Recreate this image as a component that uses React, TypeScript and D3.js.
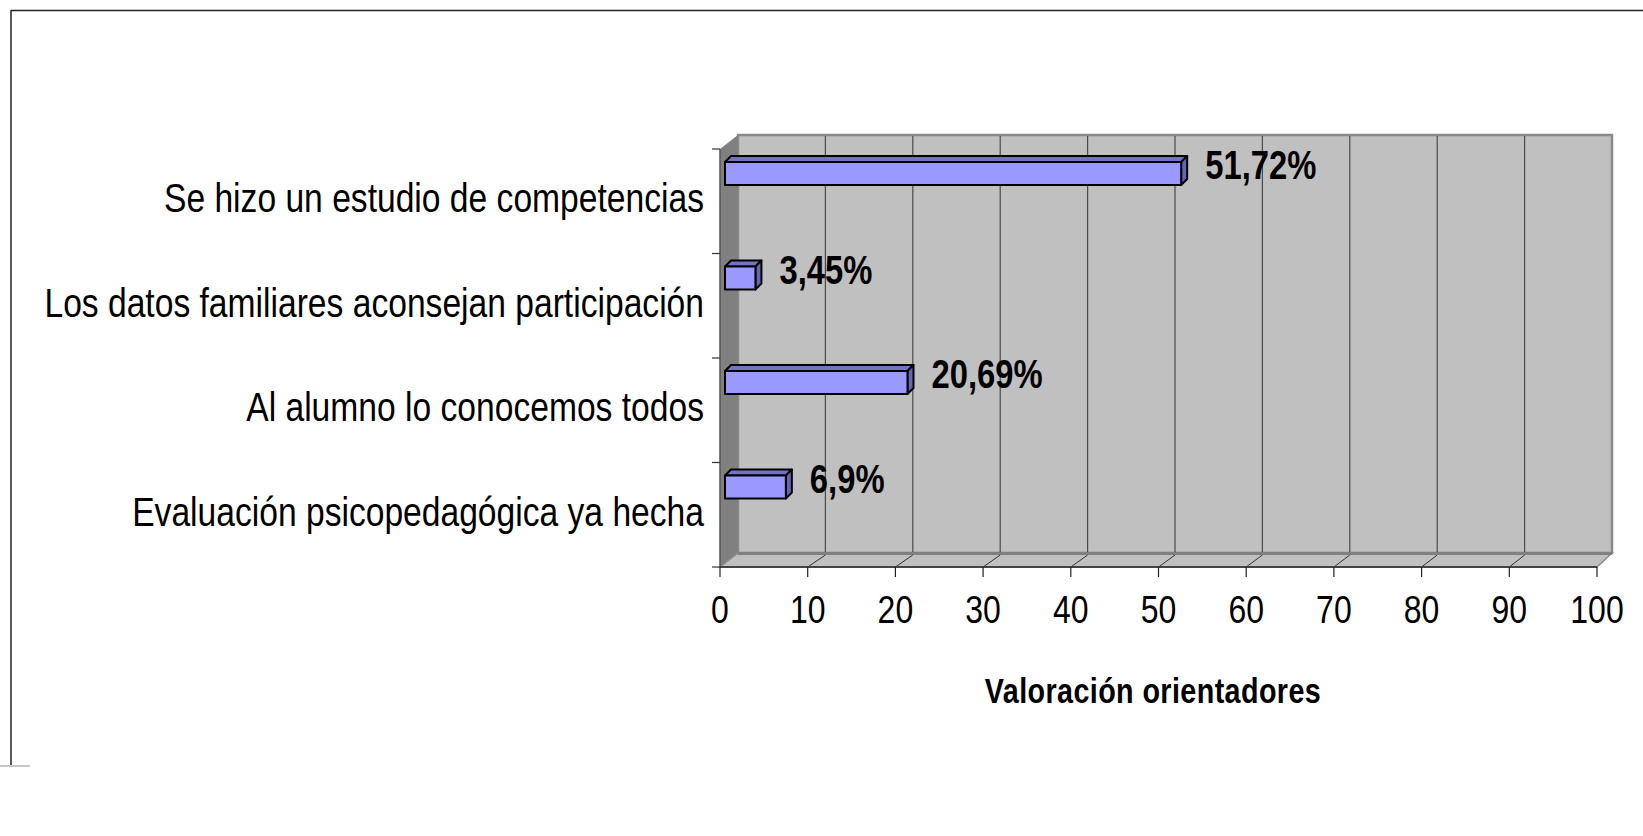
import React, { useEffect } from 'react';
import * as d3 from 'd3';

const categories = [
  'Se hizo un estudio de competencias',
  'Los datos familiares aconsejan participación',
  'Al alumno lo conocemos todos',
  'Evaluación psicopedagógica ya hecha',
];
const values = [51.72, 3.45, 20.69, 6.9];
const valueLabels = ['51,72%', '3,45%', '20,69%', '6,9%'];
const xTicks = [0, 10, 20, 30, 40, 50, 60, 70, 80, 90, 100];
const axisTitle = 'Valoración orientadores';

const FONT = "'Liberation Sans', Arial, sans-serif";
const NARROW = 0.82;

function NText(props: {
  x: number;
  y: number;
  anchor?: 'start' | 'middle' | 'end';
  size: number;
  bold?: boolean;
  spacing?: number;
  children: React.ReactNode;
}) {
  const { x, y, anchor = 'start', size, bold, spacing = 0, children } = props;
  return (
    <text
      transform={`translate(${x},${y}) scale(${NARROW},1)`}
      textAnchor={anchor}
      fontFamily={FONT}
      fontSize={size}
      fontWeight={bold ? 'bold' : 'normal'}
      letterSpacing={spacing}
      fill="#000"
    >
      {children}
    </text>
  );
}

export default function App() {
  useEffect(() => {
    document.body.style.margin = '0';
    document.body.style.overflow = 'hidden';
  }, []);

  const W = 1643;
  const H = 836;
  const frontTop = 149;
  const frontBottom = 567;
  const backTop = 135;
  const backBottom = 553;

  const frontX = d3.scaleLinear().domain([0, 100]).range([720, 1597]);
  const backX = d3.scaleLinear().domain([0, 100]).range([738, 1612]);
  const barX = d3.scaleLinear().domain([0, 100]).range([725, 1607]);
  const yBand = d3.scaleBand<string>().domain(categories).range([frontTop, frontBottom]);
  const bandEdges = categories.map((c) => yBand(c) as number).concat([frontBottom]);

  const barOffset = 13;
  const barH = 23;
  const ddx = 6;
  const ddy = -6;

  const x0f = frontX(0);
  const x0b = backX(0);
  const x1f = frontX(100);
  const x1b = backX(100);

  return (
    <svg width={W} height={H} style={{ position: 'absolute', left: 0, top: 0, background: '#fff' }}>
      {/* outer frame */}
      <line x1={11} y1={10.5} x2={W} y2={10.5} stroke="#222" strokeWidth={1.5} />
      <line x1={11} y1={10} x2={11} y2={765} stroke="#222" strokeWidth={1.5} />
      <line x1={0} y1={766} x2={30} y2={766} stroke="#c8c8c0" strokeWidth={2} />

      {/* back wall */}
      <rect x={x0b} y={backTop} width={x1b - x0b} height={backBottom - backTop} fill="#c0c0c0" stroke="#8a8a8a" strokeWidth={2.5} />
      {xTicks.filter((t) => t > 0 && t < 100).map((t) => (
        <line key={'g' + t} x1={backX(t)} y1={backTop + 1} x2={backX(t)} y2={backBottom} stroke="#4a4a4a" strokeWidth={1.2} />
      ))}
      {/* left side wall */}
      <polygon points={`${x0f},${frontTop} ${x0b},${backTop} ${x0b},${backBottom} ${x0f},${frontBottom}`} fill="#808080" />
      {/* floor */}
      <polygon points={`${x0f},${frontBottom} ${x0b},${backBottom} ${x1b},${backBottom} ${x1f},${frontBottom}`} fill="#c0c0c0" stroke="#8a8a8a" strokeWidth={1.5} />
      <line x1={x0b} y1={backBottom + 0.5} x2={x1b} y2={backBottom + 0.5} stroke="#808080" strokeWidth={3} />
      {xTicks.filter((t) => t > 0 && t < 100).map((t) => (
        <line key={'f' + t} x1={backX(t)} y1={backBottom + 2} x2={frontX(t)} y2={frontBottom} stroke="#333" strokeWidth={1} />
      ))}

      {/* y axis */}
      <line x1={x0f} y1={frontTop} x2={x0f} y2={frontBottom} stroke="#555" strokeWidth={1.5} />
      {bandEdges.map((y, i) => (
        <line key={'yt' + i} x1={x0f - 8} y1={y} x2={x0f} y2={y} stroke="#333" strokeWidth={1.2} />
      ))}
      {/* x axis */}
      <line x1={x0f} y1={frontBottom} x2={x1f} y2={frontBottom} stroke="#444" strokeWidth={1.8} />
      {xTicks.map((t) => (
        <line key={'xt' + t} x1={frontX(t)} y1={frontBottom} x2={frontX(t)} y2={frontBottom + 10} stroke="#222" strokeWidth={1.2} />
      ))}
      {xTicks.map((t) => (
        <NText key={'xl' + t} x={frontX(t)} y={623} anchor="middle" size={39}>
          {t}
        </NText>
      ))}
      <NText x={1153} y={703} anchor="middle" size={35} bold spacing={0.5}>
        {axisTitle}
      </NText>

      {/* category labels */}
      {categories.map((c) => (
        <NText key={'cl' + c} x={704} y={(yBand(c) as number) + yBand.bandwidth() / 2 + 11} anchor="end" size={41}>
          {c}
        </NText>
      ))}

      {/* bars */}
      {categories.map((c, i) => {
        const y = (yBand(c) as number) + barOffset;
        const xa = barX(0);
        const xb = barX(values[i]);
        return (
          <g key={'b' + i} stroke="#000" strokeWidth={2} strokeLinejoin="round">
            <polygon points={`${xa},${y} ${xa + ddx},${y + ddy} ${xb + ddx},${y + ddy} ${xb},${y}`} fill="#7373c6" />
            <polygon points={`${xb},${y} ${xb + ddx},${y + ddy} ${xb + ddx},${y + ddy + barH} ${xb},${y + barH}`} fill="#6666b0" />
            <rect x={xa} y={y} width={xb - xa} height={barH} fill="#9999ff" />
          </g>
        );
      })}

      {/* value labels */}
      {categories.map((c, i) => (
        <NText key={'vl' + i} x={barX(values[i]) + 24} y={(yBand(c) as number) + 30} size={40} bold>
          {valueLabels[i]}
        </NText>
      ))}
    </svg>
  );
}
